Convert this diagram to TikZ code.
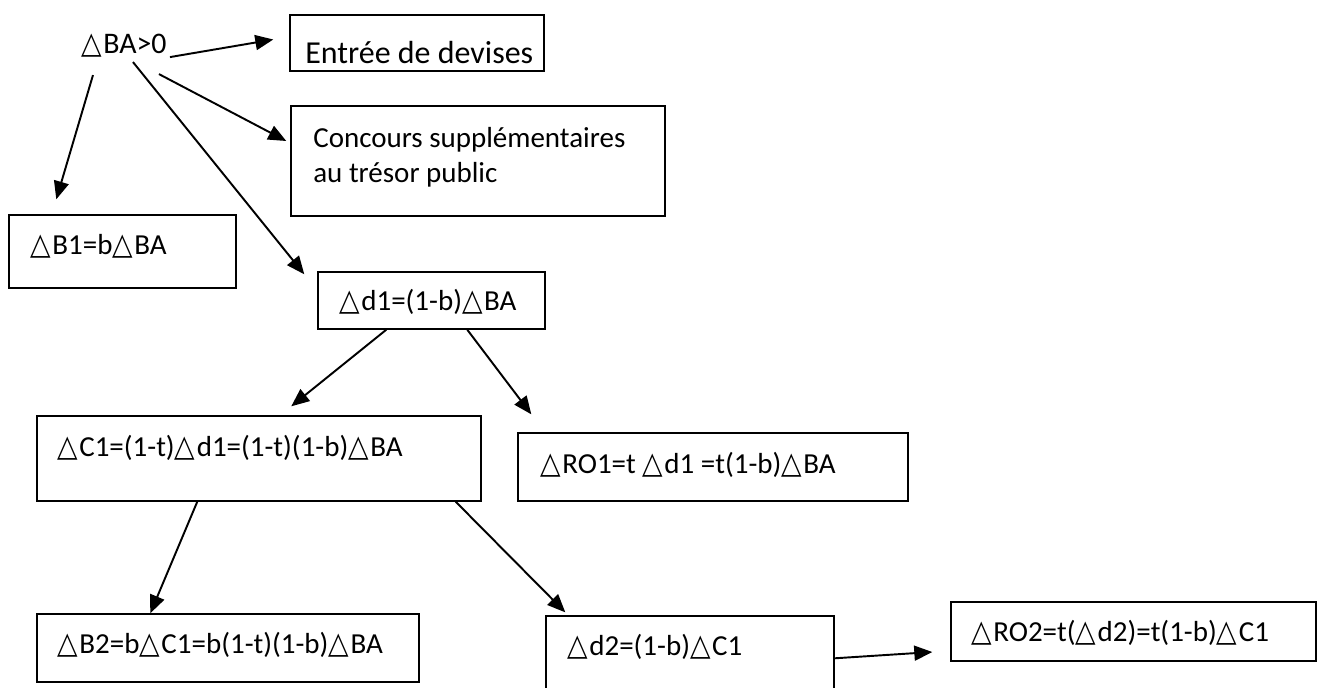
\documentclass[tikz,border=0pt]{standalone}
\usepackage{fontspec}
\setmainfont{Carlito}
\newfontfamily\symbolfont{DejaVu Sans}
\usetikzlibrary{arrows.meta}
\usetikzlibrary{fit}
\tikzset{>={Triangle[length=0.36cm,width=0.3cm]}}
\tikzset{
	flowbox/.style={draw, line width=0.8pt, inner sep=0pt},
	flowtext/.style={inner sep=0pt, align=left},
	flowarrow/.style={->, line width=1.1pt}
}
\newcommand{\tri}{\makebox[0.44cm][l]{\resizebox{0.41cm}{0.39cm}{\symbolfont △}}}
\newcommand{\bigText}{\fontsize{18.2}{22}\selectfont}
\newcommand{\flowBox}[8]{
	% #1: name
	% #2,#3: top left corner
	% #4,#5: bottom right corner
	% #6,#7: start of the text (base west of the last line)
	% #8: text
	\node[flowbox, fit={(#2,#3) (#4,#5)}] (#1) {};
	\node[flowtext, anchor=base west] (#1-text) at (#6,#7) {#8};
}

\begin{document}
\begin{tikzpicture}[x=0.02cm,y=-0.02cm,every node/.style={font=\fontsize{16.5}{19.9}\selectfont}]

\clip (0,0) rectangle (1317,687);

% start
\node[flowtext, anchor=base west, font=\fontsize{17}{20}\selectfont] (ba) at (81,53) {\tri BA>0};

% first level
\flowBox{entree}{290}{15}{544}{71}{305}{63}{\bigText Entrée de devises}
\flowBox{concours}{291}{106}{665}{216}{313}{182}{Concours supplémentaires\\au trésor public}
\flowBox{b1}{9}{215}{236}{288}{30}{254}{\tri B1=b\tri BA}
\flowBox{d1}{318}{272}{545}{329}{339}{310}{\tri d1=(1-b)\tri BA}

% second level
\flowBox{c1}{37}{416}{481}{501}{57}{456}{\tri C1=(1-t)\tri d1=(1-t)(1-b)\tri BA}
\flowBox{ro1}{518}{433}{908}{501}{540}{473}{\tri RO1=t \tri d1 =t(1-b)\tri BA}

% third level
\flowBox{b2}{37}{614}{419}{682}{57}{653}{\tri B2=b\tri C1=b(1-t)(1-b)\tri BA}
\flowBox{d2}{546}{616}{834}{720}{567}{655}{\tri d2=(1-b)\tri C1}
\flowBox{ro2}{951}{602}{1316}{661}{971}{641}{\tri RO2=t(\tri d2)=t(1-b)\tri C1}

% arrows from the start
\draw[flowarrow] ([xshift=0.06cm]ba.south east) -- ([xshift=-0.32cm,yshift=0.07cm]entree.west);
\draw[flowarrow] ([xshift=-0.16cm,yshift=-0.34cm]ba.south east) -- ([xshift=-0.08cm,yshift=0.4cm]concours.west);
\draw[flowarrow] ([xshift=0.24cm,yshift=-0.36cm]ba.south west) -- ([xshift=0.96cm,yshift=0.3cm]b1.north west);
\draw[flowarrow] ([xshift=1.04cm,yshift=-0.1cm]ba.south west) -- ([xshift=-0.26cm,yshift=-0.06cm]d1.north west);

% arrows from d1
\draw[flowarrow] ([xshift=1.38cm]d1.south west) -- ([xshift=5.1cm,yshift=0.18cm]c1.north west);
\draw[flowarrow] ([xshift=3.0cm]d1.south west) -- ([xshift=0.28cm,yshift=0.36cm]ro1.north west);

% arrows from c1
\draw[flowarrow] ([xshift=3.22cm]c1.south west) -- ([xshift=2.28cm]b2.north west);
\draw[flowarrow] ([xshift=-0.52cm]c1.south east) -- ([xshift=0.4cm,yshift=0.06cm]d2.north west);

% arrow from d2
\draw[flowarrow] ([yshift=-0.86cm]d2.north east) -- ([xshift=-0.36cm,yshift=-0.41cm]ro2.west);

\end{tikzpicture}
\end{document}
